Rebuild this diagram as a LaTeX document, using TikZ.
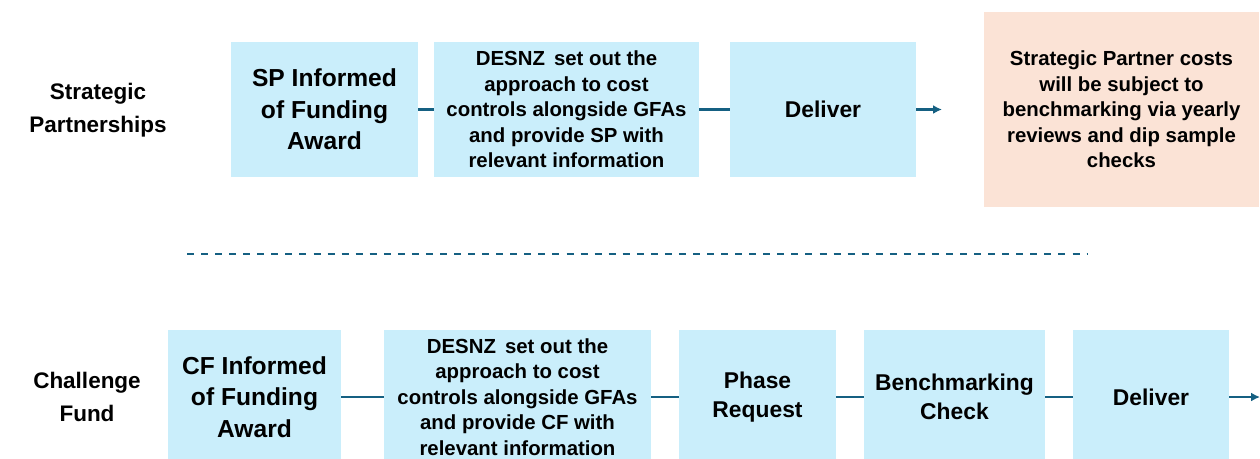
\documentclass[tikz,border=0pt]{standalone}
\usepackage{fontspec}
\setmainfont{Liberation Sans}
\usetikzlibrary{arrows.meta}
\definecolor{boxblue}{HTML}{CAEEFB}
\definecolor{boxpeach}{HTML}{FBE3D6}
\definecolor{linkblue}{HTML}{156082}
\tikzset{
  box/.style={fill=boxblue, inner sep=0pt, align=center, font=\bfseries\fontsize{11.6}{14.5}\selectfont},
  bigbox/.style={box, font=\bfseries\fontsize{14}{18}\selectfont},
  midbox/.style={box, font=\bfseries\fontsize{13}{16.4}\selectfont},
  sidelabel/.style={align=center, font=\bfseries\fontsize{12.8}{18.6}\selectfont},
  link/.style={draw=linkblue, line width=1.2pt},
  flow/.style={link, -{Latex[length=5pt,width=5pt]}}
}
\begin{document}
\begin{tikzpicture}[x=0.02cm, y=-0.02cm]
          \useasboundingbox (0,0) rectangle (1260,458);

          % strategic partnerships
          \node[sidelabel] (SPLabel) at (98,110) {Strategic\\Partnerships};
          \node[bigbox, minimum width=3.74cm, minimum height=2.72cm] (SPInformed) at (324.5,109.5) {SP Informed\\of Funding\\Award};
          \node[box, minimum width=5.3cm, minimum height=2.7cm] (SPApproach) at (566.5,109.5) {DESNZ\, set out the\\approach to cost\\controls alongside GFAs\\and provide SP with\\relevant information};
          \node[midbox, minimum width=3.72cm, minimum height=2.7cm] (SPDeliver) at (823,109.5) {Deliver};
          \node[box, fill=boxpeach, minimum width=5.5cm, minimum height=3.9cm] (SPCosts) at (1121.5,109.5) {Strategic Partner costs\\will be subject to\\benchmarking via yearly\\reviews and dip sample\\checks};
          \coordinate (SPEnd) at (942,109.5);

          \draw[link] (SPInformed) -- (SPApproach);
          \draw[link] (SPApproach) -- (SPDeliver);
          \draw[flow] (SPDeliver.east) -- (SPEnd);

          % divider
          \coordinate (DivLeft) at (187,254);
          \coordinate (DivRight) at (1088,254);
          \draw[link, dash pattern=on 4pt off 4pt] (DivLeft) -- (DivRight);

          % challenge fund
          \node[sidelabel] (CFLabel) at (87,397) {Challenge\\Fund};
          \node[bigbox, minimum width=3.46cm, minimum height=2.68cm] (CFInformed) at (254.5,397) {CF Informed\\of Funding\\Award};
          \node[box, minimum width=5.34cm, minimum height=2.68cm] (CFApproach) at (517.5,397) {DESNZ\, set out the\\approach to cost\\controls alongside GFAs\\and provide CF with\\relevant information};
          \node[midbox, minimum width=3.14cm, minimum height=2.68cm] (CFPhase) at (757.5,397) {Phase\\Request};
          \node[midbox, minimum width=3.62cm, minimum height=2.68cm] (CFCheck) at (954.5,397) {Benchmarking\\Check};
          \node[midbox, minimum width=3.12cm, minimum height=2.68cm] (CFDeliver) at (1151,397) {Deliver};
          \coordinate (CFEnd) at (1260,397);

          \draw[link] (CFInformed) -- (CFApproach);
          \draw[link] (CFApproach) -- (CFPhase);
          \draw[link] (CFPhase) -- (CFCheck);
          \draw[link] (CFCheck) -- (CFDeliver);
          \draw[flow] (CFDeliver.east) -- (CFEnd);
        \end{tikzpicture}
\end{document}
